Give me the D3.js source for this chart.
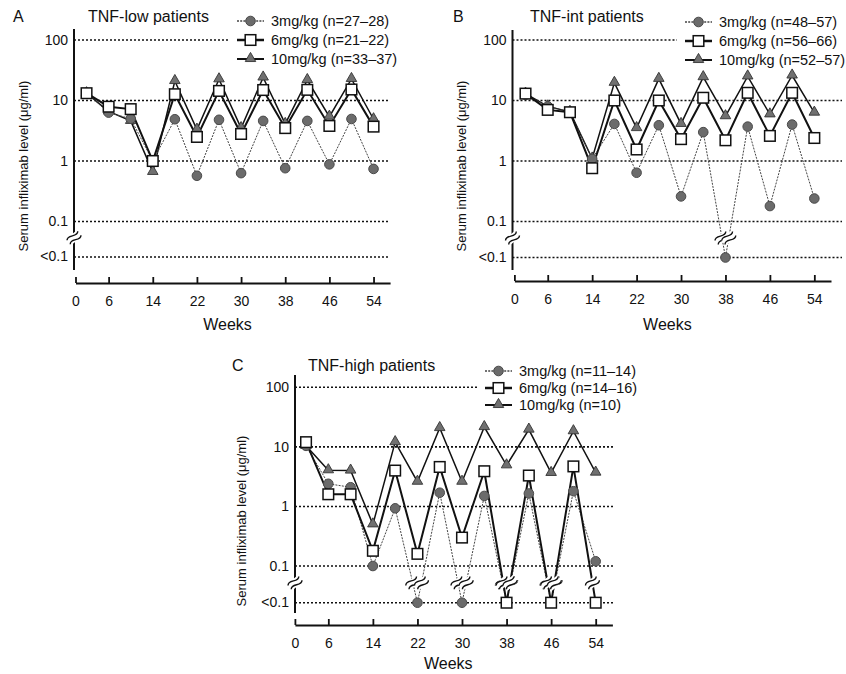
<!DOCTYPE html>
<html><head><meta charset="utf-8">
<script src="https://cdn.jsdelivr.net/npm/d3@7"></script>
<style>
html,body{margin:0;padding:0;background:#fff;}
svg{display:block;font-family:"Liberation Sans",Arial,Helvetica,sans-serif;}
</style></head>
<body>
<svg id="chart" width="846" height="674"></svg>
<script>
// ---------------- DATA ----------------
const LT = "<0.1";
const weeks = [2, 6, 10, 14, 18, 22, 26, 30, 34, 38, 42, 46, 50, 54];
const xTicks = [0, 6, 14, 22, 30, 38, 46, 54];
const yTicks = [0.1, 1, 10, 100];
const yLowLabel = "<0.1";
const seriesNames = ["3mg/kg", "6mg/kg", "10mg/kg"];

const panelLetters = ["A", "B", "C"];
const panelTitles = ["TNF-low patients", "TNF-int patients", "TNF-high patients"];
const legendA = ["3mg/kg (n=27\u201328)", "6mg/kg (n=21\u201322)", "10mg/kg (n=33\u201337)"];
const legendB = ["3mg/kg (n=48\u201357)", "6mg/kg (n=56\u201366)", "10mg/kg (n=52\u201357)"];
const legendC = ["3mg/kg (n=11\u201314)", "6mg/kg (n=14\u201316)", "10mg/kg (n=10)"];

const A3  = [13.2, 6.3, 5.0, 1.0, 4.9, 0.57, 4.8, 0.63, 4.6, 0.76, 4.6, 0.88, 4.95, 0.74];
const A6  = [13.2, 7.9, 7.2, 1.0, 12.7, 2.5, 14.4, 2.8, 14.9, 3.5, 15.0, 3.8, 15.2, 3.7];
const A10 = [13.2, 6.6, 4.6, 0.66, 21, 3.3, 22.4, 3.5, 24, 4.1, 21.8, 5.4, 22.7, 4.9];

const B3  = [12.5, 8.0, 6.5, 1.08, 4.1, 0.64, 3.9, 0.26, 3.0, LT, 3.7, 0.18, 4.0, 0.24];
const B6  = [13.0, 7.0, 6.4, 0.76, 10, 1.55, 10, 2.3, 11.1, 2.2, 13.4, 2.6, 13.4, 2.4];
const B10 = [13.0, 8.0, 6.5, 1.1, 19.6, 3.5, 22.8, 4.1, 24.3, 5.5, 25, 5.9, 25.9, 6.3];

const C3  = [10.4, 2.4, 2.1, 0.1, 0.93, LT, 1.7, LT, 1.5, LT, 1.65, LT, 1.8, 0.12];
const C6  = [12, 1.6, 1.6, 0.18, 4.0, 0.16, 4.6, 0.3, 3.9, LT, 3.3, LT, 4.7, LT];
const C10 = [10.4, 4.05, 4.0, 0.5, 12, 2.6, 20.7, 2.6, 21.5, 4.9, 19.5, 3.65, 18.3, 3.7];

// ---------------- LAYOUT ----------------
const panels = [
  {letter: panelLetters[0], title: panelTitles[0], legend: legendA, data: [A3, A6, A10],
   xL: 75.5, xR: 390.1, yHi: 40, yLo01: 221.5, yLT: 257, axisX: 74, axisTop: 29, axisBot: 270,
   xAxisY: 283, gridR: 390, letterX: 13, titleX: 88, headY: 22,
   legX: 237, legY: [21, 40, 59], ylabX: 23, ylabY: 166, weeksY: 330},
  {letter: panelLetters[1], title: panelTitles[1], legend: legendB, data: [B3, B6, B10],
   xL: 514.4, xR: 831, yHi: 40, yLo01: 221.5, yLT: 257.5, axisX: 512.5, axisTop: 30, axisBot: 270,
   xAxisY: 281, gridR: 842, letterX: 453, titleX: 530, headY: 22,
   legX: 685, legY: [22, 41, 60], ylabX: 461, ylabY: 166, weeksY: 330},
  {letter: panelLetters[2], title: panelTitles[2], legend: legendC, data: [C3, C6, C10],
   xL: 294.9, xR: 612.4, yHi: 387.3, yLo01: 566, yLT: 602.7, axisX: 295, axisTop: 375, axisBot: 613,
   xAxisY: 625, gridR: 613, letterX: 232, titleX: 308, headY: 371,
   legX: 485, legY: [371, 388, 405], ylabX: 241, ylabY: 521, weeksY: 669}
];

const svg = d3.select("#chart");
const INK = "#111";

function breakMark(g, cx, cy) {
  const m = g.append("g").attr("transform", `translate(${cx},${cy}) rotate(-40)`);
  m.append("rect").attr("x", -7).attr("y", -4).attr("width", 14).attr("height", 8).attr("fill", "#fff");
  [-2.5, 2.5].forEach(o => {
    m.append("path")
      .attr("d", `M-7,${o} C-3,${o - 5} 3,${o + 5} 7,${o}`)
      .attr("fill", "none").attr("stroke", INK).attr("stroke-width", 1.4);
  });
}

function drawMarker(g, type, cx, cy) {
  if (type === 0) {
    g.append("circle").attr("cx", cx).attr("cy", cy).attr("r", 4.8)
      .attr("fill", "#6b6b6b").attr("stroke", "#4a4a4a").attr("stroke-width", 1);
  } else if (type === 1) {
    g.append("rect").attr("x", cx - 5.3).attr("y", cy - 5.3).attr("width", 10.6).attr("height", 10.6)
      .attr("fill", "#fff").attr("stroke", INK).attr("stroke-width", 1.5);
  } else {
    g.append("path").attr("d", d3.symbol().type(d3.symbolTriangle).size(48)())
      .attr("transform", `translate(${cx},${cy - 0.5})`)
      .attr("fill", "#707070").attr("stroke", "#333").attr("stroke-width", 0.9);
  }
}

const lineStyles = [
  {stroke: "#444", width: 1, dash: "2,1.2"},
  {stroke: INK, width: 2, dash: null},
  {stroke: INK, width: 1.5, dash: null}
];

panels.forEach(p => {
  const g = svg.append("g");
  const x = d3.scaleLinear().domain([0, 57]).range([p.xL, p.xR]);
  const yLog = d3.scaleLog().domain([0.1, 100]).range([p.yLo01, p.yHi]);
  const y = v => (v === LT ? p.yLT : yLog(v));
  const yBreak = (p.yLo01 + p.yLT) / 2 - 1.5;

  // gridlines
  const gridVals = yTicks.map(v => yLog(v)).concat([p.yLT]);
  g.selectAll("line.grid").data(gridVals).enter().append("line")
    .attr("x1", p.axisX).attr("x2", p.gridR).attr("y1", d => d).attr("y2", d => d)
    .attr("stroke", INK).attr("stroke-width", 1.6).attr("stroke-dasharray", "2,2");

  // y axis labels via d3 axis
  const yAxis = d3.axisLeft(yLog).tickValues(yTicks).tickFormat(d3.format("~g")).tickSize(0).tickPadding(6);
  const ya = g.append("g").attr("transform", `translate(${p.axisX},0)`).call(yAxis);
  ya.select(".domain").remove();
  ya.selectAll("text").attr("font-size", 14).attr("fill", INK).attr("font-family", "Liberation Sans, Arial, sans-serif");
  g.append("text").attr("x", p.axisX - 6).attr("y", p.yLT).attr("dy", "0.32em")
    .attr("text-anchor", "end").attr("font-size", 14).attr("fill", INK).text(yLowLabel);

  // y axis line with break
  g.append("line").attr("x1", p.axisX).attr("x2", p.axisX).attr("y1", p.axisTop).attr("y2", yBreak - 4)
    .attr("stroke", INK).attr("stroke-width", 2);
  g.append("line").attr("x1", p.axisX).attr("x2", p.axisX).attr("y1", yBreak + 4).attr("y2", p.axisBot)
    .attr("stroke", INK).attr("stroke-width", 2);
  breakMark(g, p.axisX, yBreak);

  // x axis
  const xAxis = d3.axisBottom(x).tickValues(xTicks).tickSizeInner(-6).tickSizeOuter(0).tickPadding(13);
  const xa = g.append("g").attr("transform", `translate(0,${p.xAxisY})`).call(xAxis);
  xa.select(".domain").attr("stroke", INK).attr("stroke-width", 2);
  xa.selectAll(".tick line").attr("stroke", INK).attr("stroke-width", 1.8);
  xa.selectAll("text").attr("font-size", 14).attr("fill", INK).attr("font-family", "Liberation Sans, Arial, sans-serif");

  g.append("text").attr("x", (x(0) + x(54)) / 2 + 3).attr("y", p.weeksY).attr("text-anchor", "middle")
    .attr("font-size", 16).attr("fill", INK).text("Weeks");

  g.append("text").attr("transform", `translate(${p.ylabX},${p.ylabY}) rotate(-90)`)
    .attr("text-anchor", "middle").attr("dy", "0.35em").attr("font-size", 13).attr("fill", INK)
    .text("Serum infliximab level (\u03bcg/ml)");

  // header
  g.append("text").attr("x", p.letterX).attr("y", p.headY).attr("font-size", 16).attr("fill", INK).text(p.letter);
  g.append("text").attr("x", p.titleX).attr("y", p.headY).attr("font-size", 16).attr("fill", INK).text(p.title);

  // legend
  g.append("rect").attr("x", p.legX - 8).attr("y", p.legY[0] - 10).attr("width", 170)
    .attr("height", p.legY[2] - p.legY[0] + 20).attr("fill", "#fff");
  [0, 1, 2].forEach(i => {
    const ly = p.legY[i];
    const st = lineStyles[i];
    g.append("line").attr("x1", p.legX).attr("x2", p.legX + 27).attr("y1", ly).attr("y2", ly)
      .attr("stroke", st.stroke).attr("stroke-width", st.width + 0.5).attr("stroke-dasharray", st.dash);
    drawMarker(g, i, p.legX + 13.5, ly);
    g.append("text").attr("x", p.legX + 34).attr("y", ly).attr("dy", "0.36em")
      .attr("font-size", 14.5).attr("fill", INK).text(p.legend[i]);
  });

  // series
  const order = [2, 0, 1];
  const lineGen = d3.line().x(d => x(d[0])).y(d => y(d[1]));
  order.forEach(si => {
    const vals = p.data[si];
    const pts = weeks.map((w, i) => [w, vals[i]]);
    const st = lineStyles[si];
    g.append("path").attr("d", lineGen(pts)).attr("fill", "none")
      .attr("stroke", st.stroke).attr("stroke-width", st.width).attr("stroke-dasharray", st.dash);
  });
  // break marks on segments reaching <0.1
  order.forEach(si => {
    const vals = p.data[si];
    for (let i = 0; i < weeks.length - 1; i++) {
      const a = vals[i], b = vals[i + 1];
      if ((a === LT) !== (b === LT)) {
        const x1 = x(weeks[i]), y1 = y(a), x2 = x(weeks[i + 1]), y2 = y(b);
        const t = (yBreak - y1) / (y2 - y1);
        breakMark(g, x1 + t * (x2 - x1), yBreak);
      }
    }
  });
  order.forEach(si => {
    const vals = p.data[si];
    weeks.forEach((w, i) => drawMarker(g, si, x(w), y(vals[i])));
  });
});
</script>
</body></html>
